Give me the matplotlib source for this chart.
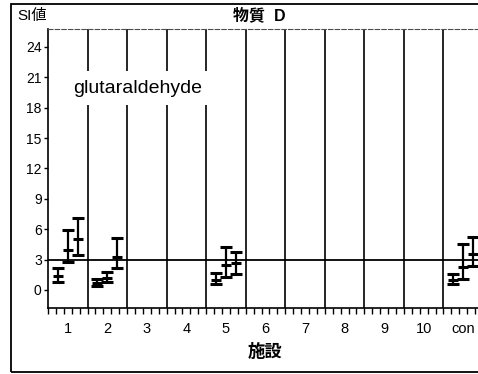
import matplotlib
matplotlib.use("Agg")
import matplotlib.pyplot as plt
from matplotlib.patches import Rectangle
from matplotlib.ticker import MultipleLocator
import numpy as np

plt.rcParams["font.family"] = ["Liberation Sans", "Noto Sans CJK JP", "DejaVu Sans"]

nan = np.nan
sites = ["1", "2", "3", "4", "5", "6", "7", "8", "9", "10", "con"]

# three exposure levels per site: mean with lower / upper limits
s1_mean = [1.38, 0.66, nan, nan, 0.99, nan, nan, nan, nan, nan, 0.99]
s1_lo = [0.79, 0.39, nan, nan, 0.56, nan, nan, nan, nan, nan, 0.56]
s1_hi = [2.14, 1.08, nan, nan, 1.64, nan, nan, nan, nan, nan, 1.58]

s2_mean = [3.95, 1.15, nan, nan, 2.47, nan, nan, nan, nan, nan, 2.30]
s2_lo = [2.80, 0.82, nan, nan, 1.31, nan, nan, nan, nan, nan, 1.08]
s2_hi = [5.92, 1.81, nan, nan, 4.28, nan, nan, nan, nan, nan, 4.54]

s3_mean = [5.00, 3.29, nan, nan, 2.63, nan, nan, nan, nan, nan, 3.52]
s3_lo = [3.43, 2.17, nan, nan, 1.58, nan, nan, nan, nan, nan, 2.37]
s3_hi = [7.14, 5.13, nan, nan, 3.78, nan, nan, nan, nan, nan, 5.26]

threshold = 3

fig = plt.figure(figsize=(4.78, 3.74), dpi=100)
ax = fig.add_axes([48 / 478, 1 - 308 / 374, 435 / 478, 279 / 374])

ax.set_xlim(0, len(sites))
ax.set_ylim(-1.78, 25.77)

for k in range(1, len(sites)):
    ax.axvline(k, color="black", lw=1.2, zorder=1)
ax.axhline(threshold, color="black", lw=1.3, zorder=1)

idx = np.arange(len(sites))
for offset, m, lo, hi in [(0.25, s1_mean, s1_lo, s1_hi),
                          (0.5, s2_mean, s2_lo, s2_hi),
                          (0.75, s3_mean, s3_lo, s3_hi)]:
    m = np.array(m)
    err = np.vstack([m - np.array(lo), np.array(hi) - m])
    ax.errorbar(idx + offset, m, yerr=err, fmt="_", color="black",
                ms=7, mew=2.2, elinewidth=1.6, capsize=4, capthick=2.2, zorder=3)

ax.text(2.27, 19.94, "glutaraldehyde", fontsize=14, ha="center", va="center",
        bbox=dict(facecolor="white", edgecolor="none", pad=6), zorder=4)

ax.set_yticks(range(0, 25, 3))
ax.set_xticks(idx + 0.5)
ax.set_xticklabels(sites)
ax.xaxis.set_minor_locator(MultipleLocator(0.2))
ax.tick_params(axis="x", which="major", length=0, pad=10, labelsize=10.5)
ax.tick_params(axis="x", which="minor", length=4, width=1, direction="out")
ax.tick_params(axis="y", length=3, width=1, pad=1.5, labelsize=10)

for s in ["left", "bottom"]:
    ax.spines[s].set_linewidth(1.2)
ax.spines["right"].set_visible(False)
ax.spines["top"].set_linestyle((0, (4, 2)))
ax.spines["top"].set_linewidth(0.8)
ax.spines["top"].set_color("0.3")

ax.set_xlabel("施設", fontsize=12.5, fontweight="bold", labelpad=5)

fig.text(259 / 478, 1 - 15 / 374, "物質  D", fontsize=11.5, fontweight="bold",
         ha="center", va="center")
fig.text(17 / 478, 1 - 16 / 374, "SI値", fontsize=11, ha="left", va="center")

fig.add_artist(Rectangle((11 / 478, 1 - 372 / 374), 1.0, 368 / 374,
                         transform=fig.transFigure, fill=False,
                         edgecolor="black", lw=1.3))

fig.savefig("out.png", dpi=100)
